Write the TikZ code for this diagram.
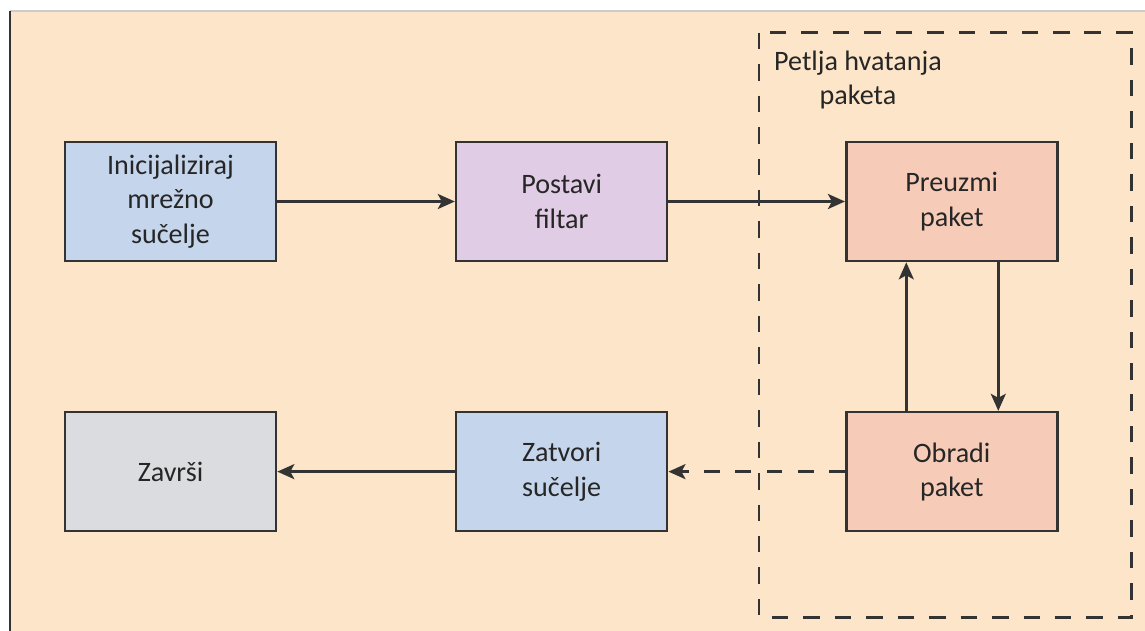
\documentclass[tikz,border=0pt]{standalone}
\usepackage{fontspec}
\setmainfont{Carlito}
\usetikzlibrary{positioning,arrows.meta}

\definecolor{bgpeach}{HTML}{FCE5C8}
\definecolor{boxblue}{HTML}{C5D5EC}
\definecolor{boxlilac}{HTML}{E0CCE4}
\definecolor{boxsalmon}{HTML}{F6CCB8}
\definecolor{boxgray}{HTML}{DBDCDF}
\definecolor{linegray}{HTML}{333333}

\tikzset{
  stepbox/.style={draw=linegray, line width=1.5pt, minimum width=4.22cm,
    minimum height=2.38cm, align=center, text=black!85,
    font=\fontsize{16}{19.5}\selectfont},
  flow/.style={draw=linegray, line width=1.5pt,
    -{Stealth[length=0.34cm, width=0.3cm, inset=0.08cm]}},
  loopbox/.style={draw=linegray, line width=1.5pt, dash pattern=on 9.4pt off 8.5pt}
}

\begin{document}
\begin{tikzpicture}[node distance=2.97cm and 3.55cm]
  \useasboundingbox (0,0) rectangle (22.9,-12.62);
  \fill[bgpeach] (0.2,-0.22) rectangle (22.9,-12.62);
  \draw[black!20, line width=0.6pt] (0.2,-0.22) -- (22.9,-0.22);
  \draw[linegray, line width=1pt] (0.2,-0.22) -- (0.2,-12.62);

  % top row
  \node[stepbox, fill=boxblue] (init) at (3.41,-4.03) {Inicijaliziraj\\mrežno\\sučelje};
  \node[stepbox, fill=boxlilac, right=of init] (filter) {Postavi\\filtar};
  \node[stepbox, fill=boxsalmon, right=3.53cm of filter] (fetch) {Preuzmi\\paket};

  % bottom row
  \node[stepbox, fill=boxsalmon, below=of fetch] (process) {Obradi\\paket};
  \node[stepbox, fill=boxblue, left=3.53cm of process] (close) {Zatvori\\sučelje};
  \node[stepbox, fill=boxgray, left=of close] (finish) {Završi};

  % capture loop
  \draw[loopbox] ([shift={(-1.72,2.16)}]fetch.north west) coordinate (loopnw)
    rectangle ([shift={(1.46,-1.7)}]process.south east);
  \node[align=center, text=black!85, font=\fontsize{16}{19.5}\selectfont]
    (looplabel) at ([shift={(1.98,-0.95)}]loopnw) {Petlja hvatanja\\paketa};

  \draw[flow] (init) -- (filter);
  \draw[flow] (filter) -- (fetch);
  \draw[flow] ([xshift=-0.91cm]process.north) -- ([xshift=-0.91cm]fetch.south);
  \draw[flow] ([xshift=0.93cm]fetch.south) -- ([xshift=0.93cm]process.north);
  \draw[flow, dash pattern=on 9pt off 8.8pt] (process) -- (close);
  \draw[flow] (close) -- (finish);
\end{tikzpicture}
\end{document}
